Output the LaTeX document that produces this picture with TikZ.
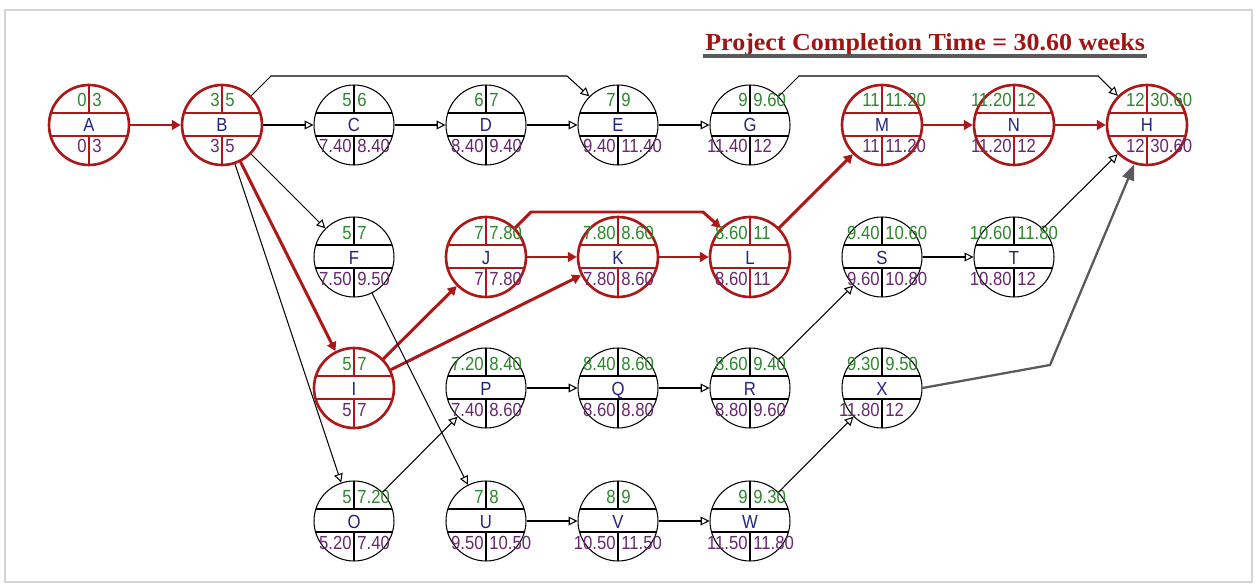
\documentclass[tikz,border=0pt]{standalone}
\usepackage{fontspec}
\setmainfont{Liberation Sans}
\newfontfamily\nodefont{Liberation Sans}[FakeStretch=0.88]
\newfontfamily\titlefont{Liberation Serif}
\usetikzlibrary{arrows.meta}
\definecolor{crit}{RGB}{172,24,24}
\definecolor{titlered}{RGB}{160,20,20}
\definecolor{esgreen}{RGB}{45,135,45}
\definecolor{lspurple}{RGB}{105,40,110}
\definecolor{lblblue}{RGB}{35,35,130}
\definecolor{framegray}{RGB}{212,212,212}
\definecolor{xgray}{RGB}{90,90,90}
\tikzset{
  ncirc/.style={circle, minimum size=1.6cm, inner sep=0pt, draw=black, line width=0.6pt},
  ccirc/.style={circle, minimum size=1.6cm, inner sep=0pt, draw=crit, line width=1.5pt},
  nline/.style={draw=black, line width=0.6pt},
  cline/.style={draw=crit, line width=1.3pt},
  numtxt/.style={inner sep=0pt, font=\nodefont\fontsize{10.8pt}{12pt}\selectfont},
  estxt/.style={numtxt, text=esgreen},
  lstxt/.style={numtxt, text=lspurple},
  lbltxt/.style={numtxt, text=lblblue, anchor=base},
  narrow/.style={-{Triangle[open,length=5pt,width=5pt]}, draw=black, line width=0.6pt},
  crarrow/.style={-{Triangle[length=5pt,width=5.5pt]}, draw=crit, line width=1.7pt},
  grarrow/.style={-{Triangle[length=9pt,width=7pt]}, draw=xgray, line width=1.3pt},
}
% name, x, y, label, es, ef, ls, lf, kind (n or c)
\newcommand{\pnode}[9]{%
  \node[#9circ] (#1) at (#2,#3) {};
  \draw[#9line] ({#2-38.2},{#3-12}) -- ({#2+38.2},{#3-12});
  \draw[#9line] ({#2-38.4},{#3+11}) -- ({#2+38.4},{#3+11});
  \draw[#9line] ({#2},{#3-40}) -- ({#2},{#3-12});
  \draw[#9line] ({#2},{#3+11}) -- ({#2},{#3+40});
  \node[estxt, anchor=base east] (#1es) at ({#2-2},{#3-18}) {#5};
  \node[estxt, anchor=base west] (#1ef) at ({#2+3},{#3-18}) {#6};
  \node[lbltxt] (#1lbl) at ({#2},{#3+7}) {#4};
  \node[lstxt, anchor=base east] (#1ls) at ({#2-2},{#3+28}) {#7};
  \node[lstxt, anchor=base west] (#1lf) at ({#2+3},{#3+28}) {#8};
}
\begin{document}
\begin{tikzpicture}[x=0.02cm, y=-0.02cm]
\useasboundingbox (0,0) rectangle (1259,588);
\fill[white] (0,0) rectangle (1259,588);
\draw[framegray, line width=1.2pt] (5,10) rectangle (1252,582);

% title
\node[anchor=base west, inner sep=0pt, text=titlered,
      font=\titlefont\bfseries\fontsize{14.5pt}{16pt}\selectfont] (title) at (705,51)
      {\scalebox{1.02}[0.96]{Project Completion Time = 30.60 weeks}};
\draw[xgray, line width=2pt] (703,56) -- (1147,56);

% row 1
\pnode{A}{89}{125}{A}{0}{3}{0}{3}{c}
\pnode{B}{222}{125}{B}{3}{5}{3}{5}{c}
\pnode{C}{354}{125}{C}{5}{6}{7.40}{8.40}{n}
\pnode{D}{486}{125}{D}{6}{7}{8.40}{9.40}{n}
\pnode{E}{618}{125}{E}{7}{9}{9.40}{11.40}{n}
\pnode{G}{750}{125}{G}{9}{9.60}{11.40}{12}{n}
\pnode{M}{882}{125}{M}{11}{11.20}{11}{11.20}{c}
\pnode{N}{1014}{125}{N}{11.20}{12}{11.20}{12}{c}
\pnode{H}{1147}{125}{H}{12}{30.60}{12}{30.60}{c}
% row 2
\pnode{F}{354}{257}{F}{5}{7}{7.50}{9.50}{n}
\pnode{J}{486}{257}{J}{7}{7.80}{7}{7.80}{c}
\pnode{K}{618}{257}{K}{7.80}{8.60}{7.80}{8.60}{c}
\pnode{L}{750}{257}{L}{8.60}{11}{8.60}{11}{c}
\pnode{S}{882}{257}{S}{9.40}{10.60}{9.60}{10.80}{n}
\pnode{T}{1014}{257}{T}{10.60}{11.80}{10.80}{12}{n}
% row 3
\pnode{I}{354}{388}{I}{5}{7}{5}{7}{c}
\pnode{P}{486}{388}{P}{7.20}{8.40}{7.40}{8.60}{n}
\pnode{Q}{618}{388}{Q}{8.40}{8.60}{8.60}{8.80}{n}
\pnode{R}{750}{388}{R}{8.60}{9.40}{8.80}{9.60}{n}
\pnode{X}{882}{388}{X}{9.30}{9.50}{11.80}{12}{n}
% row 4
\pnode{O}{354}{521}{O}{5}{7.20}{5.20}{7.40}{n}
\pnode{U}{486}{521}{U}{7}{8}{9.50}{10.50}{n}
\pnode{V}{618}{521}{V}{8}{9}{10.50}{11.50}{n}
\pnode{W}{750}{521}{W}{9}{9.30}{11.50}{11.80}{n}

% bend points
\coordinate (be1) at (271,76);
\coordinate (be2) at (567,76);
\coordinate (gh1) at (799,76);
\coordinate (gh2) at (1098,76);
\coordinate (jl1) at (531,212);
\coordinate (jl2) at (703,212);
\coordinate (xh1) at (1050,365);

% critical connectors
\draw[crarrow] (A) -- (B);
\draw[crarrow] (B) -- (I);
\draw[crarrow] (I) -- (J);
\draw[crarrow] (I) -- (K);
\draw[crarrow] (J) -- (K);
\draw[crarrow] (K) -- (L);
\draw[crarrow] (J.45) -- (jl1) -- (jl2) -- (L.135);
\draw[crarrow] (L) -- (M);
\draw[crarrow] (M) -- (N);
\draw[crarrow] (N) -- (H);

% normal connectors
\draw[narrow] (B) -- (C);
\draw[narrow] (C) -- (D);
\draw[narrow] (D) -- (E);
\draw[narrow] (E) -- (G);
\draw[narrow] (B.45) -- (be1) -- (be2) -- (E.135);
\draw[narrow] (G.45) -- (gh1) -- (gh2) -- (H.135);
\draw[narrow] (B) -- (F);
\draw[narrow] (B) -- (O);
\draw[narrow] (F) -- (U);
\draw[narrow] (O) -- (P);
\draw[narrow] (P) -- (Q);
\draw[narrow] (Q) -- (R);
\draw[narrow] (R) -- (S);
\draw[narrow] (S) -- (T);
\draw[narrow] (T) -- (H);
\draw[narrow] (U) -- (V);
\draw[narrow] (V) -- (W);
\draw[narrow] (W) -- (X);
\draw[grarrow] (X.east) -- (xh1) -- (H.-108);
\end{tikzpicture}
\end{document}
